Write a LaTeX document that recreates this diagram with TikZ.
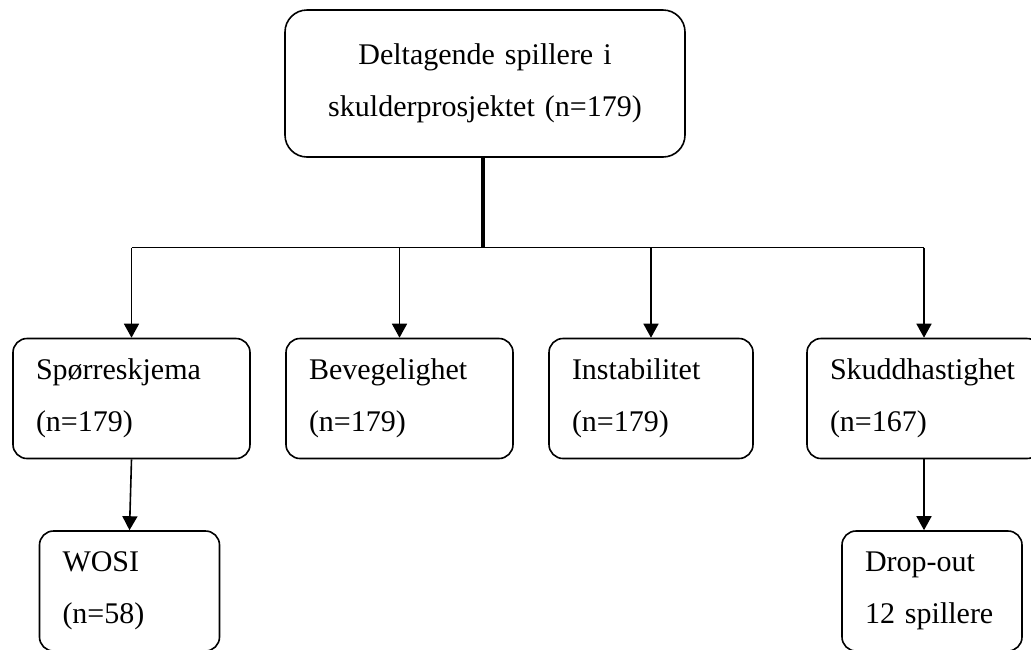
\documentclass[tikz,border=0pt]{standalone}
\usepackage{fontspec}
\setmainfont{Liberation Serif}
\usetikzlibrary{arrows.meta}

\begin{document}
\begin{tikzpicture}[
    x=1pt, y=-1pt,
    box/.style={draw, line width=1.6pt, rounded corners=14pt, align=left,
        inner xsep=23pt, inner ysep=0pt, minimum height=120pt,
        font=\fontsize{30}{52}\selectfont},
    topbox/.style={box, rounded corners=22pt, align=center, minimum height=147pt},
    link/.style={line width=1.6pt},
    arrowlink/.style={link, -{Triangle[width=15pt,length=14pt]}},
    trunk/.style={line width=3.2pt}
]
\useasboundingbox (0,0) rectangle (1031,649);

% Top box
\node[topbox, text width=354pt] (top) at (485,83.5) {Deltagende spillere i\\skulderprosjektet (n=179)};

% Middle row
\node[box, text width=191pt] (sp) at (131.5,398.5) {Spørreskjema\\(n=179)};
\node[box, text width=181pt] (bev) at (399.5,398.5) {Bevegelighet\\(n=179)};
\node[box, text width=158pt] (ins) at (651,398.5) {Instabilitet\\(n=179)};
\node[box, text width=188pt] (sku) at (924,398.5) {Skuddhastighet\\(n=167)};

% Bottom row
\node[box, text width=134pt] (wosi) at (129.5,591) {WOSI\\(n=58)};
\node[box, text width=134pt] (drop) at (932,591) {Drop-out\\12 spillere};

% Connectors
\coordinate (bus) at (483,247.5);
\draw[trunk] (top.south -| bus) -- (bus);
\draw[link] (bus -| sp.north) -- (bus -| sku.north);
\foreach \n in {sp,bev,ins,sku}
    \draw[arrowlink] (bus -| \n.north) -- (\n.north);
\draw[arrowlink] (sp.south) -- (wosi.north);
\draw[arrowlink] (sku.south) -- (sku.south |- drop.north);

\end{tikzpicture}
\end{document}
